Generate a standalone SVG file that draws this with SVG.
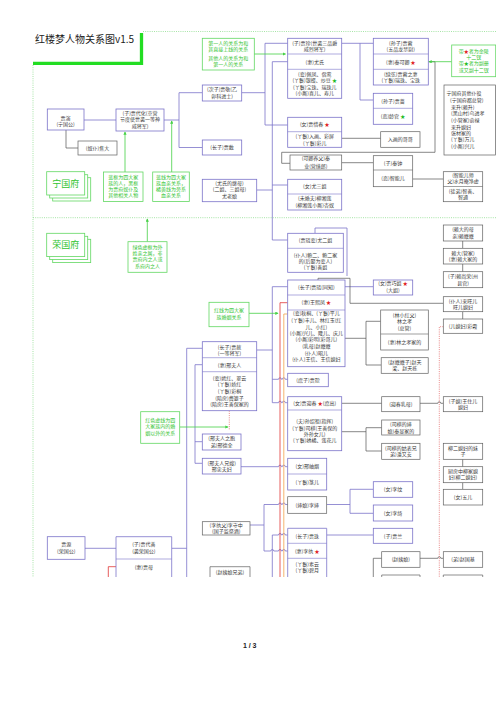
<svg xmlns="http://www.w3.org/2000/svg" width="496" height="702" viewBox="0 0 496 702">
<style>
.bp{fill:#fff;stroke:#7b73c9;stroke-width:.8}
.bk{fill:#fff;stroke:#606060;stroke-width:.7}
.bg{fill:#fff;stroke:#62d862;stroke-width:.8}
.dp{stroke:#7b73c9;stroke-width:.6}
.dk{stroke:#606060;stroke-width:.6}
text{font-family:"Noto Sans CJK SC","Noto Sans",sans-serif;font-size:5px;fill:#3a3a3a;text-anchor:middle}
.gt{fill:#2fc42f}
.big{font-size:9px}
.lp{stroke:#7b73c9;fill:none;stroke-width:.8}
.lk{stroke:#555;fill:none;stroke-width:.7}
.lr{stroke:#e03535;fill:none;stroke-width:.8}
.lo{stroke:#f2a24a;fill:none;stroke-width:.8}
.lg{stroke:#45d045;fill:none;stroke-width:.8}
.ld{stroke:#e05555;fill:none;stroke-width:.7;stroke-dasharray:1 1.2}
.fr{stroke:#7fd87f;fill:none;stroke-width:.7;stroke-dasharray:1 1.2}
.rs{fill:#e02020}
.gs{fill:#22bb22}
</style>
<defs>
<marker id="ga" viewBox="0 0 6 6" refX="5" refY="3" markerWidth="4" markerHeight="4" orient="auto"><path d="M0,0 L6,3 L0,6 z" fill="#45d045"/></marker>
</defs>

<g id="frame">
<path class="fr" d="M143,31.5 H496 M33,65 V577 M33,217.7 H496"/>
<path d="M33,63.3 H141.5 V33" stroke="#22dd22" stroke-width="3.3" fill="none"/>
<text x="35" y="43" style="font-size:10px;text-anchor:start;fill:#222">红楼梦人物关系图v1.5</text>
<text x="249.7" y="648" style="font-size:7px;font-weight:bold;fill:#222;font-family:'Liberation Sans',sans-serif">1 / 3</text>
</g>

<g id="connectors">
<path class="lp" d="M84,120 H116 M164,120 H179 M179,92.7 V147.5 M179,92.7 H202.3 M179,147.5 H202.3"/>
<path class="lp" d="M241.7,92.7 H265 M265,43.3 V125 M265,43.3 H287.7 M265,125 H287.7"/>
<path class="lp" d="M341.7,43.3 H373.3 M360,43.3 V100 H373.3"/>
<path class="lp" d="M287.7,61.7 H272.3 V240 H287.7 M272.3,185 H287.7 M256.7,190 H272.3"/>
<path class="lp" d="M315,233.3 V228 H347 V276"/>
<path class="lp" d="M186.7,348.3 H202.3 M256.7,350 H272.3 M272.3,286.7 V402.7 M272.3,286.7 H287.7 M272.3,379.3 H278.5 a1.5,1.5 0 0 1 3,0 H282.3 a1.5,1.5 0 0 1 3,0 H287.7 M272.3,402.7 H278.5 a1.5,1.5 0 0 1 3,0 H282.3 a1.5,1.5 0 0 1 3,0 H287.7"/>
<path class="lp" d="M345,286.7 H373.3"/>
<path class="lp" d="M186.7,348.3 V577 M171.7,548.3 H186.7 M85,548.3 H116"/>
<path class="lp" d="M195,364.7 V463.3 M195,364.7 H202.3 M195,441.7 H202.3 M195,463.3 H202.3"/>
<path class="lp" d="M241,466.7 H278.5 a1.5,1.5 0 0 1 3,0 H282.3 a1.5,1.5 0 0 1 3,0 H287.7"/>
<path class="lp" d="M250,525 H264 M264,504.5 V551 M264,504.5 H278.5 a1.5,1.5 0 0 1 3,0 H282.3 a1.5,1.5 0 0 1 3,0 H287.7 M264,551 H270.8 a1.5,1.5 0 0 1 3,0 H278.5 a1.5,1.5 0 0 1 3,0 H282.3 a1.5,1.5 0 0 1 3,0 H287.7"/>
<path class="lp" d="M326.7,504.5 H350 M350,489.3 V513.3 M350,489.3 H373.3 M350,513.3 H373.3"/>
<path class="lp" d="M272.3,535 H278.5 a1.5,1.5 0 0 1 3,0 H282.3 a1.5,1.5 0 0 1 3,0 H287.7 M272.3,535 V577 M326.7,535 H373.3"/>
<path class="lk" d="M373.3,558.3 V577 M373.3,558.3 H381.7"/>
<path class="lk" d="M66,130 V148 H78"/>
<path class="lk" d="M290,163.3 H281.7 V152.3 H435 V61.7 H428.3 M341.7,162.7 H373.3 M341.7,138.3 H380.7 M412.7,179 H443.3"/>
<path class="lk" d="M462.7,241 V248.3 M462.7,264 V271.7 M462.7,311.7 V319"/>
<path class="lk" d="M318,280 V278.3 H350 V303.3 H443.3"/>
<path class="lk" d="M345,338.3 H366 M366,321.3 V365 M366,321.3 H380.7 M366,365 H381.2"/>
<path class="lk" d="M341.7,403.3 H381.7 M420,403.3 H437.8 a1.5,1.5 0 0 1 3,0 H443.3"/>
<path class="lk" d="M341.7,431.7 H366 M366,427.7 V451 M366,427.7 H381.7 M366,451 H381.7"/>
<path class="lk" d="M462.7,459.3 V466.7 M462.7,482.7 V489.3 M420,558.3 H437.8 a1.5,1.5 0 0 1 3,0 H443.3"/>
<path class="lr" d="M287.7,302.7 H280 V577 M116,566.7 H108.3 V577"/>
<path class="lo" d="M287.7,314 H283.8 V577"/>
<path class="ld" d="M443.3,326.7 H439.3 V577 M229.3,410.7 V430"/>
<path class="lg" marker-end="url(#ga)" d="M125,172 V132"/>
<path class="lg" marker-end="url(#ga)" d="M171.7,172 V121"/>
<path class="lg" marker-end="url(#ga)" d="M147.3,241.7 V219"/>
<path class="lg" marker-end="url(#ga)" d="M202.3,54 H285.5"/>
<path class="lg" marker-end="url(#ga)" d="M249,313.3 H278"/>
<path class="lg" marker-end="url(#ga)" d="M179.7,427 H228"/>
<path class="lg" marker-end="url(#ga)" d="M451.7,61.7 H429"/>
</g>

<g id="ningguofu"><rect class="bg" x="52.7" y="177.7" width="38" height="23.3"/><rect class="bg" x="49.7" y="174.7" width="38" height="23.3"/><rect class="bg" x="46.7" y="171.7" width="38" height="23.3"/><text class="gt big" x="65.7" y="186.5">宁国府</text></g>
<g id="rongguofu"><rect class="bg" x="52.7" y="239.3" width="38" height="23.3"/><rect class="bg" x="49.7" y="236.3" width="38" height="23.3"/><rect class="bg" x="46.7" y="233.3" width="38" height="23.3"/><text class="gt big" x="65.7" y="248">荣国府</text></g>

<g id="note1"><rect class="bg" x="103.5" y="172" width="39.5" height="29.5"/><text class="gt" x="123.25" y="178.5">蓝框为四大家</text><text class="gt" x="123.25" y="184.5">族的人，黑框</text><text class="gt" x="123.25" y="190.5">为贾府奴仆及</text><text class="gt" x="123.25" y="196.8">其他相关人物</text></g>
<g id="note2"><rect class="bg" x="152.7" y="172" width="36.6" height="29.5"/><text class="gt" x="171" y="178.5">蓝线为四大家</text><text class="gt" x="171" y="184.5">族血亲关系，</text><text class="gt" x="171" y="190.5">橘黄线为旁系</text><text class="gt" x="171" y="196.8">血亲关系</text></g>
<g id="note3"><rect class="bg" x="128" y="241.7" width="39" height="30.6"/><text class="gt" x="147.5" y="248.5">绿色虚框为外</text><text class="gt" x="147.5" y="254.5">姓亲之属，非</text><text class="gt" x="147.5" y="261.1">贾府内之人或</text><text class="gt" x="147.5" y="267.8">系府内之人</text></g>
<g id="note4"><rect class="bg" x="209" y="302.3" width="40" height="24.4"/><text class="gt" x="229" y="311.8">红线为四大家</text><text class="gt" x="229" y="318.5">族婚姻关系</text></g>
<g id="note5"><rect class="bg" x="140.7" y="411.7" width="39" height="31.6"/><text class="gt" x="160.2" y="421.8">红色虚线为四</text><text class="gt" x="160.2" y="427.8">大家族内的婚</text><text class="gt" x="160.2" y="434.5">姻以外的关系</text></g>
<g id="legend"><rect class="bg" x="202.3" y="38.3" width="52" height="31.7"/><text class="gt" x="228.3" y="45.1">第一人的关系为和</text><text class="gt" x="228.3" y="51.1">其直接上线的关系</text><text class="gt" x="228.3" y="60.1">其他人的关系为和</text><text class="gt" x="228.3" y="66.1">第一人的关系</text></g>
<g id="starnote"><rect class="bg" x="451.7" y="45" width="44" height="31.7"/><text class="gt" x="473.7" y="52.5">带<tspan class="rs">★</tspan>者为金陵</text><text class="gt" x="473.7" y="58.5">十二钗</text><text class="gt" x="473.7" y="65.1">带<tspan class="gs">★</tspan>者为副册</text><text class="gt" x="473.7" y="71.8">或又副十二钗</text></g>

<g id="jiayan"><rect class="bp" x="47.3" y="109" width="36.7" height="21"/><text x="65.6" y="119.5">贾演</text><text x="65.6" y="126.1">(宁国公)</text></g>
<g id="jiadaihua"><rect class="bp" x="116" y="109" width="48" height="22"/><text x="140" y="115.1">(子)贾代化(京营</text><text x="140" y="121.1">节度使世袭一等神</text><text x="140" y="127.5">威将军)</text></g>
<g id="jiaoda"><rect class="bk" x="78" y="141" width="39" height="14"/><text x="97.5" y="149.8">(奴仆)焦大</text></g>
<g id="jiajing"><rect class="bp" x="202.3" y="85" width="39.4" height="16"/><text x="222" y="91.1">(次子)贾敬(乙</text><text x="222" y="97.8">卯科进士)</text></g>
<g id="jiafu"><rect class="bp" x="202.3" y="140" width="39.4" height="15"/><text x="222" y="149.3">(长子)贾敷</text></g>
<g id="jiazhen"><rect class="bp" x="287.7" y="38.3" width="54" height="60"/><path class="dp" d="M287.7,54 H341.7 M287.7,69.3 H341.7"/><text x="314.7" y="44.5">(子)贾珍(世袭三品爵</text><text x="314.7" y="50.8">威烈将军)</text><text x="314.7" y="63.5">(妻)尤氏</text><text x="314.7" y="75.8">(妾)佩凤、偕鸾</text><text x="314.7" y="81.8">(丫鬟)银蝶、炒豆 <tspan class="gs">★</tspan></text><text x="314.7" y="88.5">(丫鬟)宝珠、瑞珠儿</text><text x="314.7" y="95.1">(小厮)喜儿、寿儿</text></g>
<g id="xichun"><rect class="bp" x="287.7" y="117.3" width="54" height="30"/><path class="dp" d="M287.7,131.7 H341.7"/><text x="314.7" y="126.3">(女)贾惜春 <tspan class="rs">★</tspan></text><text x="314.7" y="137.8">(丫鬟)入画、彩屏</text><text x="314.7" y="144.5">(丫鬟)彩儿</text></g>
<g id="qinye"><rect class="bk" x="290" y="155" width="51.7" height="15"/><text x="315.85" y="160.1">(可卿养父)秦</text><text x="315.85" y="167.8">业(营缮郎)</text></g>
<g id="jiarong"><rect class="bp" x="373.3" y="38.3" width="55" height="46.7"/><path class="dp" d="M373.3,54 H428.3 M373.3,69.3 H428.3"/><text x="400.8" y="44.5">(孙子)贾蓉</text><text x="400.8" y="50.8">(五品龙禁尉)</text><text x="400.8" y="63.5">(妻)秦可卿 <tspan class="rs">★</tspan></text><text x="400.8" y="75.5">(续弦)贾蓉之妻</text><text x="400.8" y="81.8">(丫鬟)瑞珠、宝珠</text></g>
<g id="jiaqiang"><rect class="bp" x="373.3" y="93.3" width="39.4" height="31"/><path class="dp" d="M373.3,108.3 H412.7"/><text x="393" y="102.6">(孙子)贾蔷</text><text x="393" y="117.8">(恋)龄官 <tspan class="gs">★</tspan></text></g>
<g id="ruhuage"><rect class="bk" x="380.7" y="131.7" width="39.3" height="15.6"/><text x="400.35" y="141.3">入画的哥哥</text></g>
<g id="qinzhong"><rect class="bk" x="373.3" y="155.7" width="39.4" height="31"/><path class="dk" d="M373.3,170 H412.7"/><text x="393" y="164.8">(子)秦钟</text><text x="393" y="179.8">(恋)智能儿</text></g>
<g id="jingxu"><rect class="bk" x="443.3" y="171.7" width="39.4" height="30"/><path class="dk" d="M443.3,186.5 H482.7"/><text x="463" y="176.8">(智能儿师</text><text x="463" y="182.8">父)水月庵净虚</text><text x="463" y="192.8">(徒弟)智善、</text><text x="463" y="199.3">智通</text></g>
<g id="ningpuyi"><rect class="bk" x="444" y="85" width="51.5" height="70"/><text x="446.5" y="94.5" style="text-anchor:start">宁国府其他仆役</text><text x="450" y="101.8" style="text-anchor:start">(宁国府都总管)</text><text x="451" y="108.5" style="text-anchor:start">来升(赖升)</text><text x="451" y="115.1" style="text-anchor:start">(黑山村)乌进孝</text><text x="451" y="121.8" style="text-anchor:start">(小管家)俞禄</text><text x="451" y="128.5" style="text-anchor:start">来升媳妇</text><text x="451" y="134.5" style="text-anchor:start">张材家的</text><text x="451" y="141.1" style="text-anchor:start">(丫鬟)万儿</text><text x="451" y="147.8" style="text-anchor:start">(小厮)兴儿</text></g>
<g id="youlaoniang"><rect class="bp" x="202.3" y="179.3" width="54.4" height="22.4"/><text x="229.5" y="185.1">(尤氏的继母)</text><text x="229.5" y="191.1">(二姐、三姐母)</text><text x="229.5" y="197.5">尤老娘</text></g>
<g id="yousanjie"><rect class="bp" x="287.7" y="179.3" width="54" height="30.7"/><path class="dp" d="M287.7,194 H341.7"/><text x="314.7" y="188.3">(女)尤三姐</text><text x="314.7" y="200.1">(未婚夫)柳湘莲</text><text x="314.7" y="206.8">(柳湘莲小厮)杏奴</text></g>

<g id="youerjie"><rect class="bp" x="287.7" y="233.3" width="55.6" height="39"/><path class="dp" d="M287.7,248.3 H343.3"/><text x="315.5" y="242.3">(贾琏妾)尤二姐</text><text x="315.5" y="256.8">(仆人)鲍二、鲍二家</text><text x="315.5" y="262.8">的(后娶为妾人)</text><text x="315.5" y="268.5">(丫鬟)善姐</text></g>
<g id="jialian"><rect class="bp" x="287.7" y="280" width="57.3" height="86.7"/><path class="dp" d="M287.7,295 H345 M287.7,310 H345"/><text x="316.35" y="289.3">(长子)贾琏(同知)</text><text x="316.35" y="304.3">(妻)王熙凤 <tspan class="rs">★</tspan></text><text x="316.35" y="315.1">(妾)秋桐、(丫鬟)平儿</text><text x="316.35" y="321.8">(丫鬟)丰儿、林红玉(红</text><text x="316.35" y="328.5">儿、小红)</text><text x="316.35" y="334.5">(小厮)兴儿、隆儿、庆儿</text><text x="316.35" y="340.8">(小厮)彩明(彩哥儿)</text><text x="316.35" y="347.5">(乳母)赵嬷嬷</text><text x="316.35" y="354.5">(仆人)昭儿</text><text x="316.35" y="361.1">(仆人)王信、王信媳妇</text></g>
<g id="qiaojie"><rect class="bp" x="373.3" y="280" width="39.4" height="15"/><text x="393" y="285.1">(女)贾巧姐 <tspan class="rs">★</tspan></text><text x="393" y="291.8">(大姐)</text></g>
<g id="laimama"><rect class="bk" x="443.3" y="225" width="39.4" height="16"/><text x="463" y="231.3">(赖大的母</text><text x="463" y="237.8">亲)赖嬷嬷</text></g>
<g id="laida"><rect class="bk" x="443.3" y="248.3" width="39.4" height="15.7"/><text x="463" y="254.5">赖大(管家)</text><text x="463" y="261.1">(妻)赖大家的</text></g>
<g id="laishangrong"><rect class="bk" x="443.3" y="271.7" width="39.4" height="16"/><text x="463" y="277.8">(子)赖尚荣(州</text><text x="463" y="284.5">县官)</text></g>
<g id="laiwang"><rect class="bk" x="443.3" y="296.7" width="39.4" height="15"/><text x="463" y="302.8">(仆人)来旺儿</text><text x="463" y="309.3">旺儿媳妇</text></g>
<g id="caixia"><rect class="bk" x="443.3" y="319" width="39.4" height="14.3"/><text x="463" y="327.9">(儿媳妇)彩霞</text></g>
<g id="linzhixiao"><rect class="bk" x="380.7" y="310" width="47.6" height="40"/><path class="dk" d="M380.7,334 H428.3"/><text x="404.5" y="316.8">(林小红父)</text><text x="404.5" y="323.1">林之孝</text><text x="404.5" y="329.5">(总管)</text><text x="404.5" y="343.5">(妻)林之孝家的</text></g>
<g id="zhaotianliang"><rect class="bk" x="381.2" y="357.7" width="47" height="15.6"/><text x="404.7" y="363.8">(赵嬷嬷子)赵天</text><text x="404.7" y="370.3">梁、赵天栋</text></g>
<g id="jiacong"><rect class="bp" x="287.7" y="373.3" width="40.6" height="13.4"/><text x="308" y="381.8">(庶子)贾琮</text></g>
<g id="yingchun"><rect class="bp" x="287.7" y="396.7" width="54" height="54"/><path class="dp" d="M287.7,410 H341.7"/><text x="314.7" y="404.8">(女)贾迎春 <tspan class="rs">★</tspan>(庶出)</text><text x="314.7" y="422.8">(夫)孙绍祖(指挥)</text><text x="314.7" y="429.5">(丫鬟)司棋(王善保的</text><text x="314.7" y="435.8">外孙女儿)</text><text x="314.7" y="442.1">(丫鬟)绣橘、莲花儿</text></g>
<g id="rumu"><rect class="bk" x="381.7" y="396.7" width="38.3" height="15"/><text x="400.85" y="406">(迎春乳母)</text></g>
<g id="wangzhuer"><rect class="bk" x="443.3" y="396.7" width="39.4" height="15"/><text x="463" y="402.8">(子媳)王住儿</text><text x="463" y="409.3">媳妇</text></g>
<g id="qinxian"><rect class="bk" x="381.7" y="420" width="38.3" height="15"/><text x="400.85" y="426.3">(司棋的婶</text><text x="400.85" y="432.8">娘)秦显家的</text></g>
<g id="panyouan"><rect class="bk" x="381.7" y="443.3" width="38.3" height="16"/><text x="400.85" y="449.8">(司棋的姑表兄</text><text x="400.85" y="456.3">弟)潘又安</text></g>
<g id="liumei"><rect class="bk" x="443.3" y="443.3" width="39.4" height="16"/><text x="463" y="449.8">柳二媳妇的妹</text><text x="463" y="456.3">子</text></g>
<g id="liujia"><rect class="bk" x="443.3" y="466.7" width="39.4" height="16"/><text x="463" y="472.8">厨房中柳家媳</text><text x="463" y="479.3">妇(柳二媳妇)</text></g>
<g id="wuer"><rect class="bk" x="443.3" y="489.3" width="39.4" height="15.7"/><text x="463" y="499">(女)五儿</text></g>
<g id="jiashe"><rect class="bp" x="202.3" y="341.7" width="54.4" height="69"/><path class="dp" d="M202.3,357.7 H256.7 M202.3,371.7 H256.7"/><text x="229.5" y="348.5">(长子)贾赦</text><text x="229.5" y="354.5">(一等将军)</text><text x="229.5" y="366.5">(妻)邢夫人</text><text x="229.5" y="380.1">(妾)嫣红、翠云</text><text x="229.5" y="386.1">(丫鬟)娇红</text><text x="229.5" y="392.8">(丫鬟)彩桐</text><text x="229.5" y="399.5">(陪房)费婆子</text><text x="229.5" y="406.1">(陪房)王善保家的</text></g>
<g id="xingdequan"><rect class="bp" x="202.3" y="434" width="38.7" height="16"/><text x="221.65" y="440.1">(邢夫人之胞</text><text x="221.65" y="446.8">弟)邢德全</text></g>
<g id="xingzhong"><rect class="bp" x="202.3" y="458.3" width="38.7" height="15.7"/><text x="221.65" y="464.5">(邢夫人兄嫂)</text><text x="221.65" y="471.1">邢忠夫妇</text></g>
<g id="xiuyan"><rect class="bp" x="287.7" y="458.3" width="39" height="31.7"/><path class="dp" d="M287.7,474 H326.7"/><text x="307.2" y="467.8">(女)邢岫烟</text><text x="307.2" y="483.5">(丫鬟)篆儿</text></g>
<g id="lishen"><rect class="bk" x="287.7" y="496.7" width="39" height="16.6"/><text x="307.2" y="506.8">(婶娘)李婶</text></g>
<g id="liwen"><rect class="bp" x="373.3" y="481.7" width="39.4" height="15.6"/><text x="393" y="491.3">(女)李纹</text></g>
<g id="liqi"><rect class="bp" x="373.3" y="505" width="39.4" height="16"/><text x="393" y="514.8">(女)李绮</text></g>
<g id="lishouzhong"><rect class="bk" x="202.3" y="521.7" width="47.7" height="13.3"/><text x="226.15" y="527.3">(李纨父)李守中</text><text x="226.15" y="533.3">(国子监祭酒)</text></g>
<g id="jiazhu"><path class="bp" d="M287.7,577 V528.3 H326.7 V577"/><path class="dp" d="M287.7,543.3 H326.7 M287.7,558.3 H326.7"/><text x="307.2" y="537.8">(长子)贾珠</text><text x="307.2" y="552.8">(妻)李纨 <tspan class="rs">★</tspan></text><text x="307.2" y="566.1">(丫鬟)素云</text><text x="307.2" y="572.1">(丫鬟)碧月</text></g>
<g id="jialan"><rect class="bp" x="373.3" y="528.3" width="39.4" height="15"/><text x="393" y="537.6">(子)贾兰</text></g>
<g id="zhaoyiniang"><rect class="bk" x="381.7" y="551.7" width="38.3" height="15.6"/><path class="bk" d="M381.7,577 V575 H420 V577"/><text x="400.85" y="561.3">(赵姨娘)</text></g>
<g id="zhaoguoji"><rect class="bk" x="443.3" y="551.7" width="39.4" height="15.6"/><path class="bk" d="M443.3,577 V575 H482.7 V577"/><text x="463" y="561.3">(弟)赵国基</text></g>
<g id="jiayuan"><rect class="bp" x="47.3" y="536.7" width="37.7" height="22.6"/><text x="66.15" y="546.1">贾源</text><text x="66.15" y="552.8">(荣国公)</text></g>
<g id="jiadaishan"><path class="bp" d="M116,577 V536.7 H171.7 V577"/><path class="dp" d="M116,559 H171.7"/><text x="143.85" y="546.1">(子)贾代善</text><text x="143.85" y="552.8">(袭荣国公)</text><text x="143.85" y="568.5">(妻)贾母</text></g>
<g id="zhaoxiongdi"><path class="bk" d="M210,577 V566.7 H250 V577"/><text x="230" y="573.5">(赵姨娘兄弟)</text></g>
</svg>
